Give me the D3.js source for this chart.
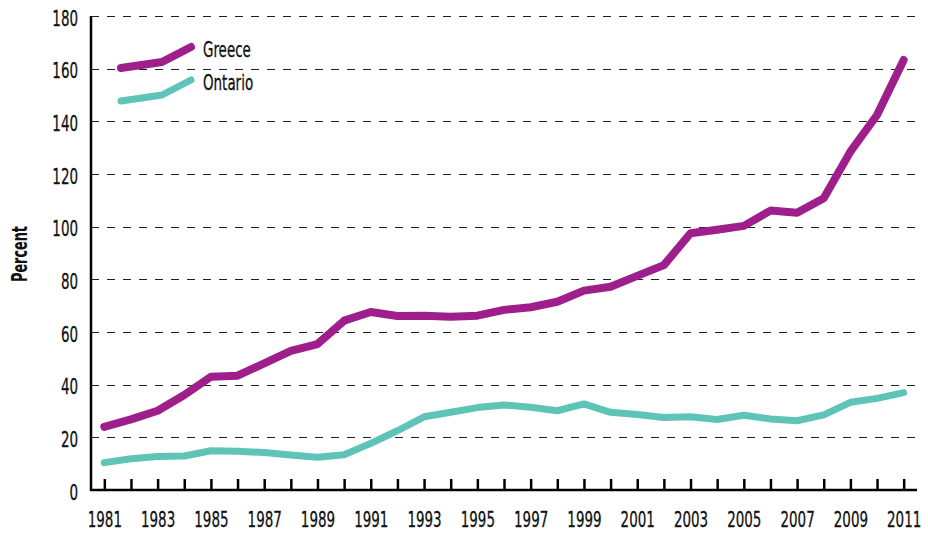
<!DOCTYPE html>
<html>
<head>
<meta charset="utf-8">
<script src="https://cdn.jsdelivr.net/npm/d3@7"></script>
<style>
    body { margin: 0; background: #fff; }
    svg text { font-family: "DejaVu Sans Condensed", "DejaVu Sans", sans-serif; fill: #111; }
</style>
</head>
<body>
<svg id="chart" width="928" height="533"></svg>
<script>
// Chart data
const years = d3.range(1981, 2012);
const greece = [24.0, 26.8, 30.1, 36.1, 43.0, 43.4, 48.1, 52.8, 55.4, 64.3,
    67.6, 66.1, 66.2, 65.8, 66.2, 68.4, 69.4, 71.5, 75.7, 77.2,
    81.3, 85.4, 97.5, 98.8, 100.3, 106.1, 105.3, 110.8, 128.5, 142.4, 163.3];
const ontario = [10.4, 11.9, 12.7, 12.9, 14.9, 14.7, 14.2, 13.3, 12.4, 13.4,
    17.7, 22.5, 27.8, 29.5, 31.3, 32.3, 31.4, 30.1, 32.7, 29.5,
    28.7, 27.5, 27.8, 26.8, 28.4, 27.0, 26.3, 28.5, 33.3, 34.8, 37.0];
const yTicks = [0, 20, 40, 60, 80, 100, 120, 140, 160, 180];
const xTickLabels = years.filter(y => (y - 1981) % 2 === 0);

const series = [
    { name: 'Greece', values: greece, color: '#9e1f8c', width: 8 },
    { name: 'Ontario', values: ontario, color: '#5ec4b7', width: 7 },
];

const dims = { left: 91, right: 917, top: 16, bottom: 490 };
// the original uses a condensed face; squeeze the text horizontally
const squeeze = 0.68;
const fontSize = 22;

const svg = d3.select('#chart');

const x = d3.scalePoint()
    .domain(years)
    .range([dims.left, dims.right])
    .padding(0.5);

const y = d3.scaleLinear()
    .domain([0, 180])
    .range([dims.bottom, dims.top]);

// dashed gridlines
svg.append('g')
    .selectAll('line')
    .data(yTicks.filter(d => d > 0))
    .join('line')
        .attr('x1', dims.left)
        .attr('x2', dims.right)
        .attr('y1', d => Math.round(y(d)) + 0.5)
        .attr('y2', d => Math.round(y(d)) + 0.5)
        .attr('stroke', '#222')
        .attr('stroke-width', 1.2)
        .attr('stroke-dasharray', '8,8');

// y axis
const yAxis = svg.append('g')
    .attr('transform', `translate(${dims.left}, 0)`)
    .call(d3.axisLeft(y).tickValues(yTicks).tickSize(0));
yAxis.select('.domain').remove();
yAxis.selectAll('text')
    .attr('font-size', `${fontSize}px`)
    .attr('font-family', '"DejaVu Sans Condensed", "DejaVu Sans", sans-serif')
    .attr('fill', '#111')
    .attr('stroke', '#111')
    .attr('stroke-width', 0.3)
    .attr('x', -13 / squeeze)
    .attr('dy', '0.42em')
    .attr('transform', `scale(${squeeze}, 1)`);
yAxis.append('line')
    .attr('y1', dims.top)
    .attr('y2', dims.bottom + 1)
    .attr('stroke', '#000')
    .attr('stroke-width', 2.5);

// x axis: ticks pointing up into the plot
const xAxis = svg.append('g')
    .attr('transform', `translate(0, ${dims.bottom})`)
    .call(d3.axisBottom(x).tickSizeInner(-11).tickSizeOuter(0).tickPadding(21)
        .tickFormat(d => xTickLabels.includes(d) ? d : ''));
xAxis.select('.domain').remove();
xAxis.selectAll('.tick line')
    .attr('stroke', '#000')
    .attr('stroke-width', 2.5);
xAxis.selectAll('text')
    .attr('font-size', `${fontSize}px`)
    .attr('font-family', '"DejaVu Sans Condensed", "DejaVu Sans", sans-serif')
    .attr('fill', '#111')
    .attr('stroke', '#111')
    .attr('stroke-width', 0.3)
    .attr('transform', `scale(${squeeze}, 1)`);
xAxis.append('line')
    .attr('x1', dims.left - 1)
    .attr('x2', dims.right)
    .attr('stroke', '#000')
    .attr('stroke-width', 2.5);

// axis title
svg.append('text')
    .attr('transform', `translate(27, ${(dims.top + dims.bottom) / 2 + 1}) rotate(-90) scale(${squeeze}, 1)`)
    .attr('text-anchor', 'middle')
    .attr('font-size', '21px')
    .attr('font-weight', 'bold')
    .text('Percent');

// lines
const line = d3.line()
    .x((d, i) => x(years[i]))
    .y(d => y(d));

svg.append('g')
    .selectAll('path')
    .data(series)
    .join('path')
        .attr('d', d => line(d.values))
        .attr('fill', 'none')
        .attr('stroke', d => d.color)
        .attr('stroke-width', d => d.width)
        .attr('stroke-linejoin', 'round')
        .attr('stroke-linecap', 'round');

// legend: small line glyph then label
const glyph = [[0, 0], [41, -6], [70, -21]];
const legend = svg.append('g')
    .selectAll('g')
    .data(series)
    .join('g')
        .attr('transform', (d, i) => `translate(121, ${68 + i * 33})`);

legend.append('path')
    .attr('d', d3.line()(glyph))
    .attr('fill', 'none')
    .attr('stroke', d => d.color)
    .attr('stroke-width', d => d.width)
    .attr('stroke-linejoin', 'round')
    .attr('stroke-linecap', 'round');

legend.append('text')
    .attr('transform', `translate(82, -11) scale(${squeeze}, 1)`)
    .attr('font-size', `${fontSize}px`)
    .attr('stroke', '#111')
    .attr('stroke-width', 0.3)
    .text(d => d.name);
</script>
</body>
</html>
